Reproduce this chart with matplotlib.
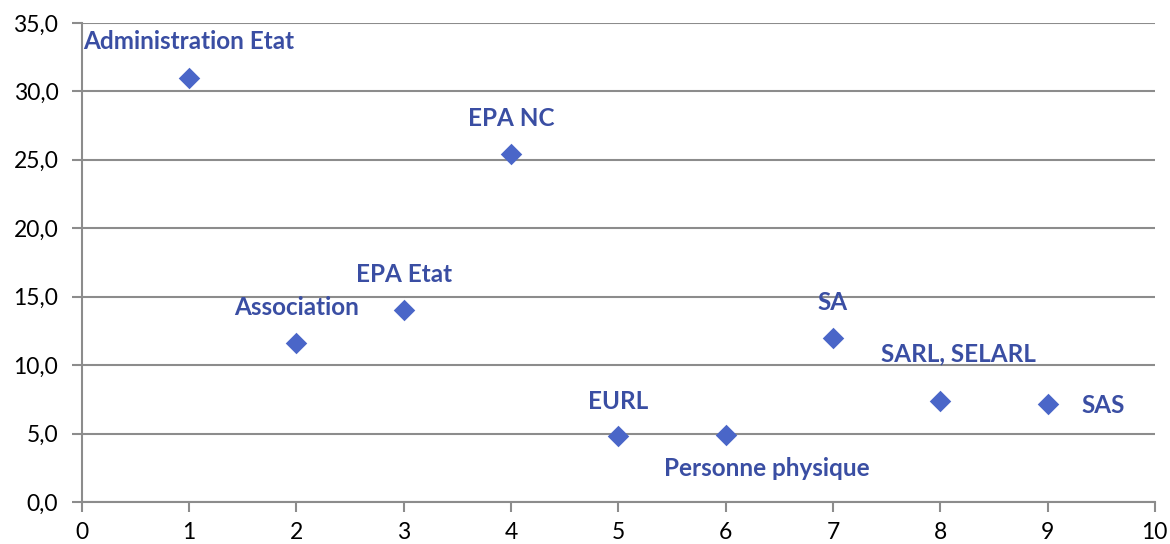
import numpy as np
import matplotlib.pyplot as plt
from matplotlib.ticker import FuncFormatter

plt.rcParams['font.family'] = ['Lato', 'DejaVu Sans']

x = [1, 2, 3, 4, 5, 6, 7, 8, 9]
y = [31.0, 11.6, 14.0, 25.4, 4.8, 4.9, 12.0, 7.4, 7.2]
labels = ["Administration Etat", "Association", "EPA Etat", "EPA NC", "EURL",
          "Personne physique", "SA", "SARL, SELARL", "SAS"]
# label offsets in pixels (dx, dy, ha)
offsets = [(0, 36, "center"), (0, 36, "center"), (0, 36, "center"), (0, 36, "center"),
           (0, 35, "center"), (-62, -33, "left"), (0, 35, "center"), (-59, 47, "left"),
           (34, -2, "left")]

marker_color = "#4A66C8"
label_color = "#3A4EA3"
grid_color = "#8C8C8C"

fig = plt.figure(figsize=(11.7, 5.44), dpi=100)
ax = fig.add_axes([0.070, 0.077, 0.917, 0.881])

ax.scatter(x, y, marker="D", s=120, color=marker_color, zorder=3, linewidths=0)

for xi, yi, lab, (dx, dy, ha) in zip(x, y, labels, offsets):
    ax.annotate(lab, (xi, yi), xytext=(dx, dy), textcoords="offset pixels",
                ha=ha, va="center", fontsize=17.5, fontweight="bold",
                color=label_color)

ax.set_xlim(0, 10)
ax.set_ylim(0, 35)
ax.set_xticks(np.arange(0, 11, 1))
ax.set_yticks(np.arange(0, 36, 5))
ax.yaxis.set_major_formatter(FuncFormatter(lambda v, p: f"{v:.1f}".replace(".", ",")))

ax.yaxis.grid(True, color=grid_color, linewidth=1.5)
ax.set_axisbelow(True)
for s in ["top", "right"]:
    ax.spines[s].set_visible(False)
for s in ["left", "bottom"]:
    ax.spines[s].set_color(grid_color)
    ax.spines[s].set_linewidth(1.5)
ax.tick_params(axis="both", colors=grid_color, width=1.5, length=7,
               labelcolor="black", labelsize=16.5)
ax.tick_params(axis="x", pad=7)
ax.tick_params(axis="y", pad=10)

fig.savefig("out.png", dpi=100)
